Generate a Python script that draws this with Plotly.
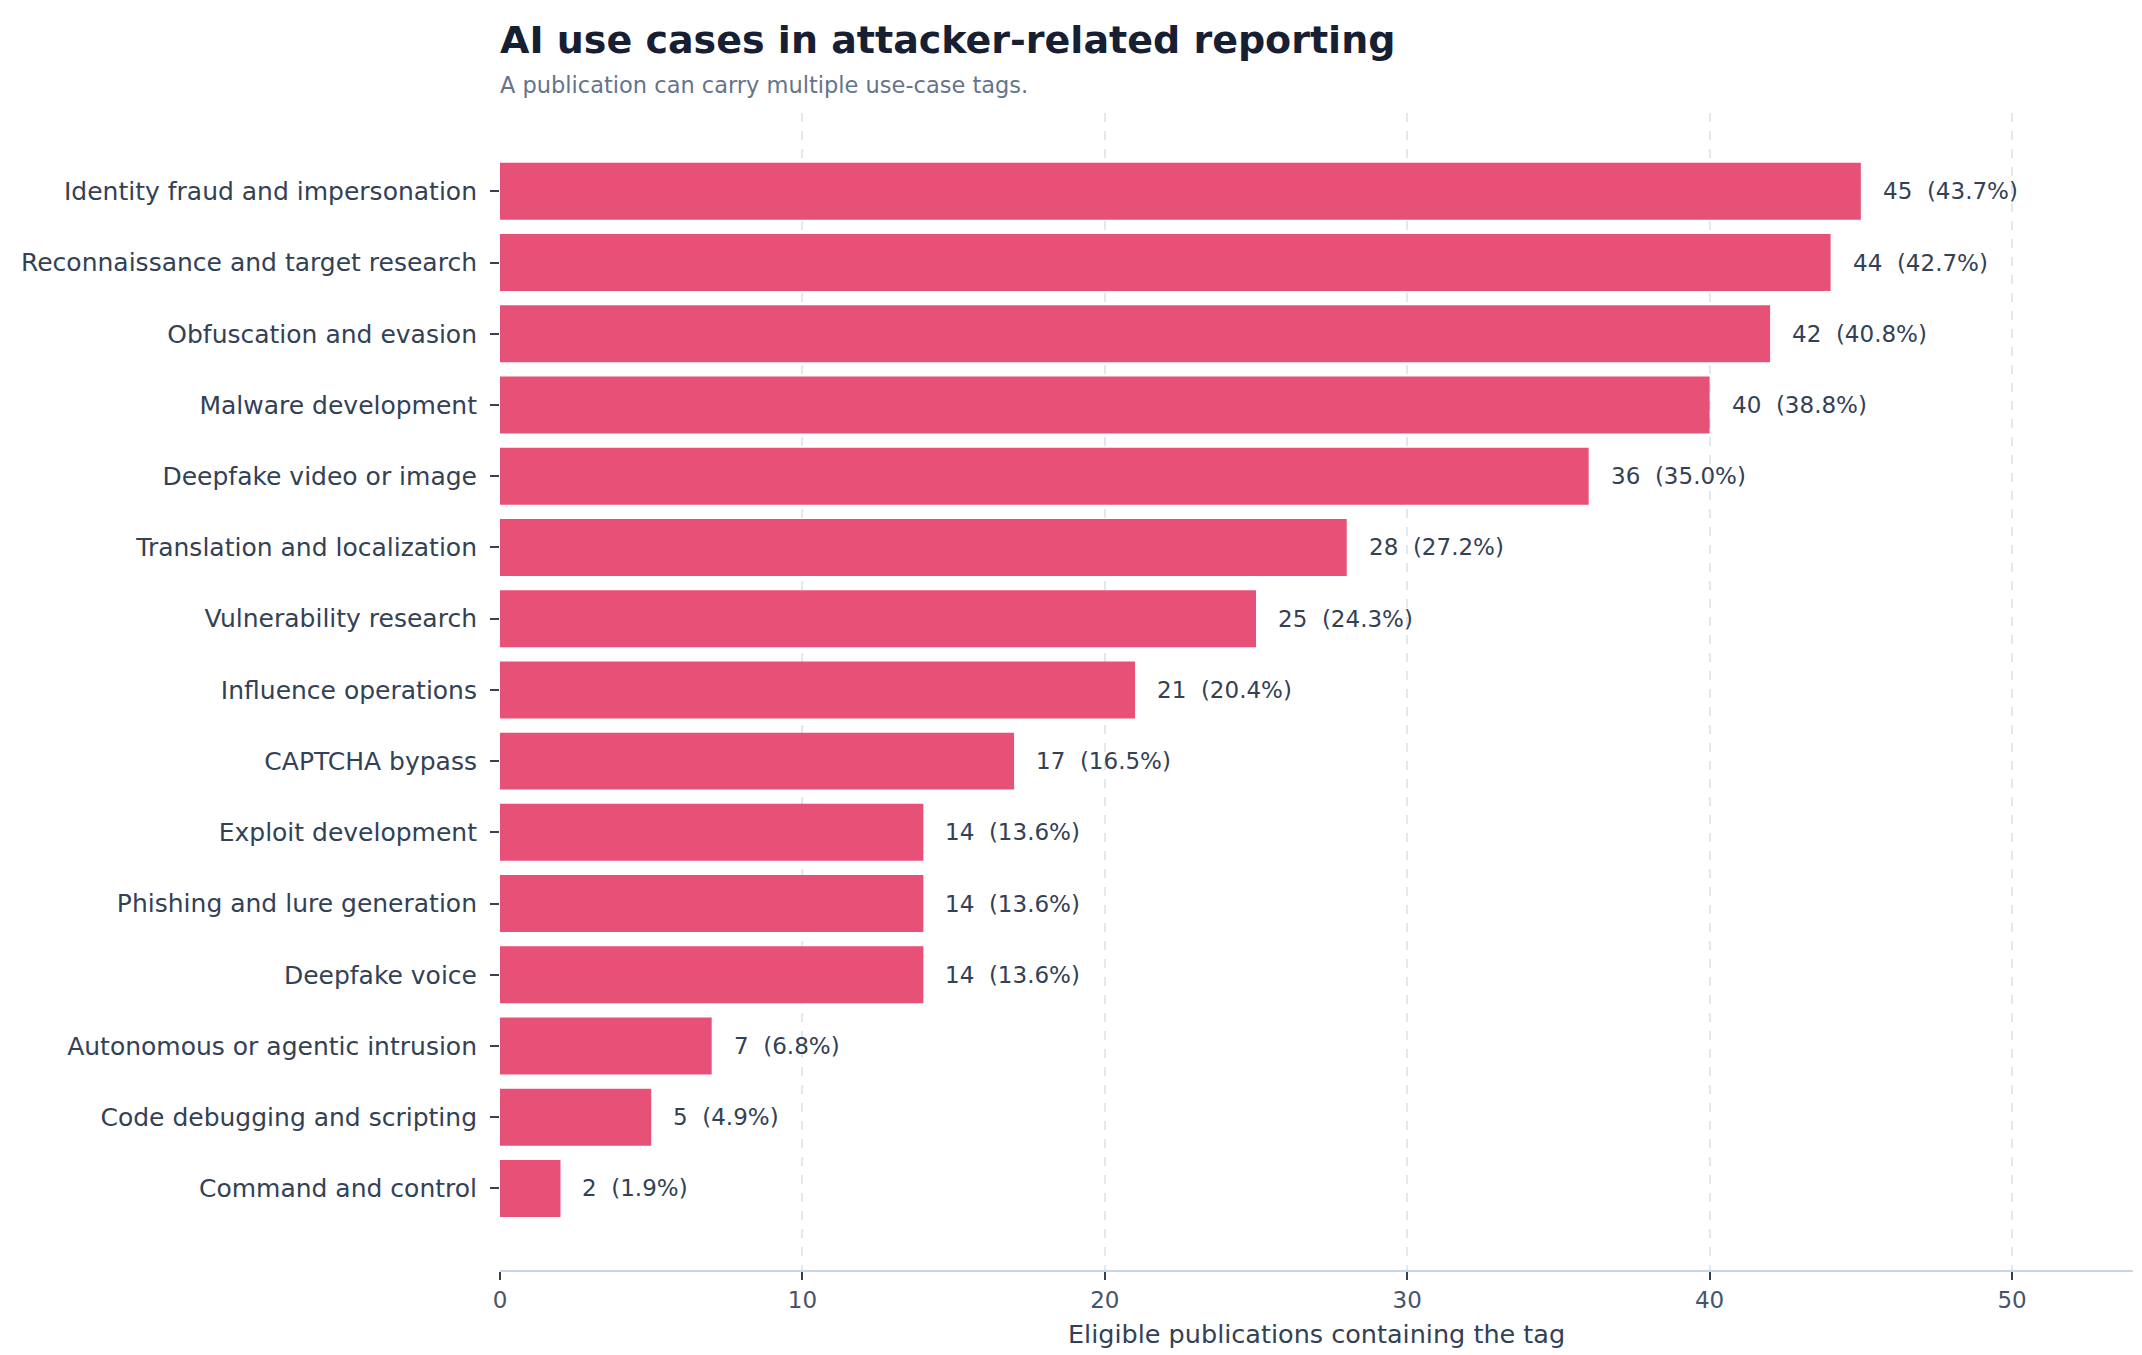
import plotly.graph_objects as go

# Use-case tags, top to bottom
categories = [
    "Identity fraud and impersonation",
    "Reconnaissance and target research",
    "Obfuscation and evasion",
    "Malware development",
    "Deepfake video or image",
    "Translation and localization",
    "Vulnerability research",
    "Influence operations",
    "CAPTCHA bypass",
    "Exploit development",
    "Phishing and lure generation",
    "Deepfake voice",
    "Autonomous or agentic intrusion",
    "Code debugging and scripting",
    "Command and control",
]
counts = [45, 44, 42, 40, 36, 28, 25, 21, 17, 14, 14, 14, 7, 5, 2]
shares = [43.7, 42.7, 40.8, 38.8, 35.0, 27.2, 24.3, 20.4, 16.5, 13.6, 13.6, 13.6, 6.8, 4.9, 1.9]
x_ticks = [0, 10, 20, 30, 40, 50]

FONT = "DejaVu Sans"
BAR = "#e85177"
INK = "#334155"

fig = go.Figure()
fig.add_trace(
    go.Bar(
        x=counts,
        y=categories,
        orientation="h",
        width=0.8,
        marker=dict(color=BAR, line=dict(width=0)),
        hoverinfo="skip",
    )
)

# value labels right of each bar (non-breaking space keeps the double gap)
for cat, n, pct in zip(categories, counts, shares):
    fig.add_annotation(
        x=n, y=cat, text=f"{n}\u00a0\u00a0({pct:.1f}%)",
        xanchor="left", yanchor="middle", xshift=20, showarrow=False,
        font=dict(family=FONT, size=23, color=INK),
    )

fig.add_annotation(
    x=0, y=1.0, xref="paper", yref="paper", yshift=73,
    text="<b>AI use cases in attacker-related reporting</b>",
    xanchor="left", yanchor="middle", showarrow=False, xshift=-2,
    font=dict(family=FONT, size=38, color="#172033"),
)
fig.add_annotation(
    x=0, y=1.0, xref="paper", yref="paper", yshift=28,
    text="A publication can carry multiple use-case tags.",
    xanchor="left", yanchor="middle", showarrow=False, xshift=-2,
    font=dict(family=FONT, size=22.5, color="#64748b"),
)
fig.add_annotation(
    x=0.5, y=0, xref="paper", yref="paper", yshift=-64,
    text="Eligible publications containing the tag",
    xanchor="center", yanchor="middle", showarrow=False,
    font=dict(family=FONT, size=25.5, color=INK),
)

fig.update_layout(
    width=2142,
    height=1355,
    margin=dict(l=492, r=17, t=105, b=93),
    paper_bgcolor="white",
    plot_bgcolor="white",
    showlegend=False,
    font=dict(family=FONT, color=INK),
)
fig.update_xaxes(
    range=[0, 54],
    tickvals=x_ticks,
    ticks="outside",
    ticklen=8,
    tickwidth=2,
    tickcolor=INK,
    tickfont=dict(family=FONT, size=23, color="#475569"),
    showgrid=True,
    gridcolor="#e2e8f0",
    griddash="dash",
    gridwidth=1.5,
    zeroline=False,
    showline=True,
    linecolor="#cbd5e1",
    linewidth=2,
)
fig.update_yaxes(
    categoryorder="array",
    categoryarray=categories,
    range=[len(categories) - 1 + 1.145, -1.10],
    ticks="outside",
    ticklen=9,
    tickwidth=2,
    tickcolor=INK,
    ticklabelstandoff=8,
    tickfont=dict(family=FONT, size=25, color=INK),
    showgrid=False,
    zeroline=False,
    showline=False,
)

fig.write_html("out.html")
